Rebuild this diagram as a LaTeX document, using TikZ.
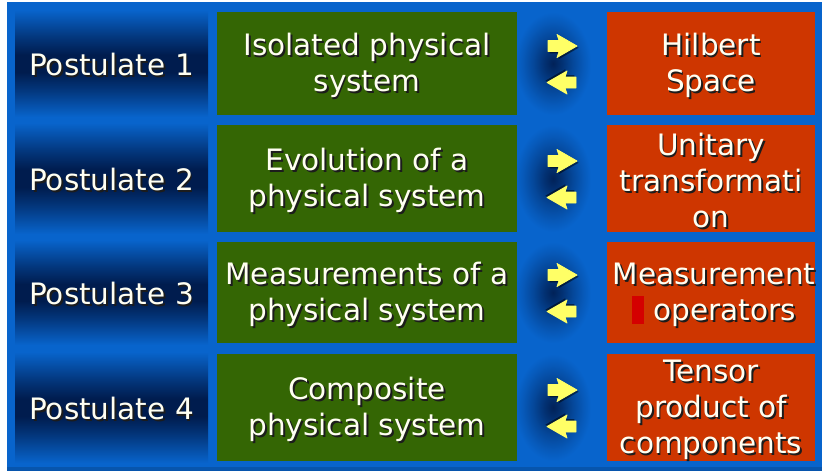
\documentclass[tikz,border=0pt]{standalone}
\usepackage{fontspec}
\setmainfont{DejaVu Sans}
\usetikzlibrary{calc}
\definecolor{bg}{RGB}{8,100,204}
\definecolor{navy}{RGB}{0,28,78}
\colorlet{navymid}{navy!65!bg}
\colorlet{navyA}{navy!92!bg}
\colorlet{navyB}{navy!70!bg}
\colorlet{navyC}{navy!40!bg}
\colorlet{navyD}{navy!15!bg}
\definecolor{gboxc}{RGB}{52,102,4}
\definecolor{rboxc}{RGB}{206,54,0}
\definecolor{ylw}{RGB}{255,255,102}
\definecolor{txtc}{RGB}{255,255,242}
\definecolor{shadowc}{RGB}{28,28,28}
\definecolor{markc}{RGB}{212,0,0}
\pgfdeclareverticalshading{postshade}{100bp}{color(0bp)=(bg); color(25bp)=(bg); color(38bp)=(navymid); color(46bp)=(navy); color(54bp)=(navy); color(62bp)=(navymid); color(75bp)=(bg); color(100bp)=(bg)}
\pgfdeclareradialshading{colshade}{\pgfpoint{0bp}{0bp}}{color(0bp)=(navyA); color(6bp)=(navyB); color(13bp)=(navyC); color(20bp)=(navyD); color(25bp)=(bg); color(50bp)=(bg)}
\newcommand\sh[1]{\makebox[0pt][l]{\hspace{1.8pt}\raisebox{-1.8pt}{\color{shadowc}#1}}#1}
\tikzset{
  btext/.style={text=txtc, align=center, font=\fontsize{29.5}{36}\selectfont, inner sep=0pt},
  greenbox/.style={fill=gboxc, draw=none, minimum width=300pt, inner sep=0pt},
  redbox/.style={fill=rboxc, draw=none, minimum width=208pt, inner sep=0pt},
  postbox/.style={shading=postshade, draw=none, minimum width=193pt, inner sep=0pt},
  colbox/.style={shading=colshade, draw=none, minimum width=76pt, inner sep=0pt},
  pics/yarrow/.style={code={
    \fill[black, opacity=0.5, line join=round, shift={(1.6,1.8)}] (-14,-5.5) -- (-3,-5.5) -- (-5,-11.5) -- (15,0) -- (-5,11.5) -- (-3,5.5) -- (-14,5.5) -- cycle;
    \filldraw[fill=ylw, draw=ylw, line width=0.8pt, line join=round] (-14,-5.5) -- (-3,-5.5) -- (-5,-11.5) -- (15,0) -- (-5,11.5) -- (-3,5.5) -- (-14,5.5) -- cycle;
  }}
}
\begin{document}
\begin{tikzpicture}[x=1pt,y=-1pt]
\useasboundingbox[fill=white] (0,0) rectangle (822,471);
\fill[bg] (7,2) rectangle (822,471);
\fill[bg!85!black] (7,467) rectangle (822,471);

% row geometry: centre y and height
\foreach \i/\c/\h in {1/63.5/103, 2/178.5/107, 3/292.5/101, 4/407.5/107}{
  \node[postbox, minimum height=\h pt+4pt] (p\i) at (111.5,\c) {};
  \node[colbox, minimum height=\h pt] (s\i) at (553,\c) {};
}
\foreach \i/\c/\h in {1/63.5/103, 2/178.5/107, 3/292.5/101, 4/407.5/107}{
  \node[greenbox, minimum height=\h pt] (g\i) at (367,\c) {};
  \node[redbox, minimum height=\h pt] (r\i) at (711,\c) {};
  \pic at (562,\c-17.5) {yarrow};
  \pic[rotate=180] at (562,\c+19) {yarrow};
}

\node[btext] (pt1) at ($(p1)+(0,2)$) {\sh{Postulate 1}};
\node[btext] (pt2) at ($(p2)+(0,2)$) {\sh{Postulate 2}};
\node[btext] (pt3) at ($(p3)+(0,2)$) {\sh{Postulate 3}};
\node[btext] (pt4) at ($(p4)+(0,2)$) {\sh{Postulate 4}};

\node[btext] (gt1) at ($(g1)+(0,3)$) {\sh{Isolated physical}\\\sh{system}};
\node[btext] (gt2) at ($(g2)+(0,3)$) {\sh{Evolution of a}\\\sh{physical system}};
\node[btext] (gt3) at ($(g3)+(0,3)$) {\sh{Measurements of a}\\\sh{physical system}};
\node[btext] (gt4) at ($(g4)+(0,3)$) {\sh{Composite}\\\sh{physical system}};

\node[btext] (rt1) at ($(r1)+(0,3)$) {\sh{Hilbert}\\\sh{Space}};
\node[btext] (rt2) at ($(r2)+(0,3)$) {\sh{Unitary}\\\sh{transformati}\\\sh{on}};
\node[btext] (rt3) at ($(r3)+(3,3)$) {\sh{Measurement}\\\textcolor{markc}{\rule[-4pt]{12pt}{28pt}} \sh{operators}};
\node[btext] (rt4) at ($(r4)+(0,3)$) {\sh{Tensor}\\\sh{product of}\\\sh{components}};
\end{tikzpicture}
\end{document}
